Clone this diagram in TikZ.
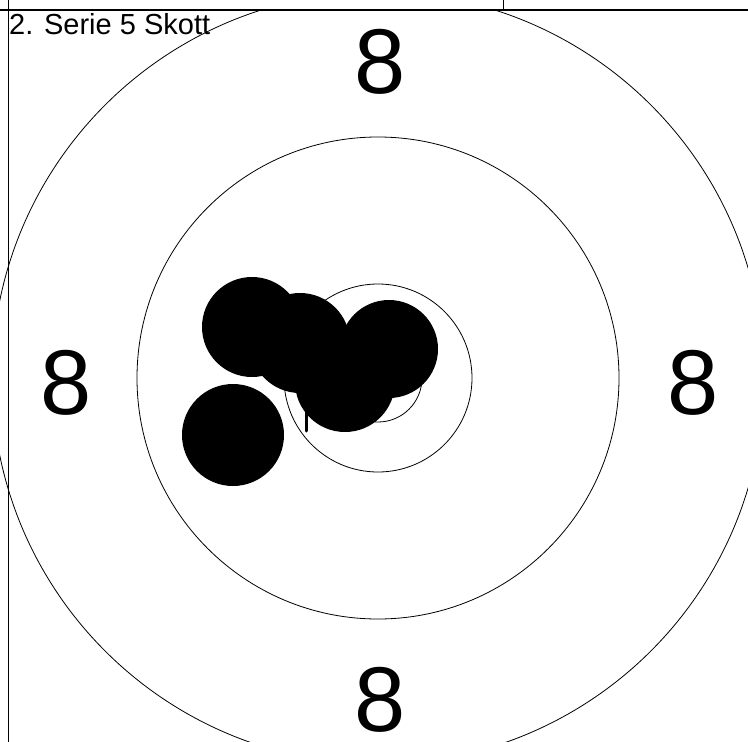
\documentclass[tikz,border=0pt]{standalone}
\usepackage{fontspec}
\setmainfont{Liberation Sans}

\begin{document}
\begin{tikzpicture}[x=1pt, y=-1pt,
    ring/.style={draw, line width=0.8pt},
    shot/.style={circle, fill=black, inner sep=0pt, minimum size=100pt},
    score/.style={font=\fontsize{92}{92}\selectfont, inner sep=0pt}]
    \useasboundingbox (0,0) rectangle (748,742);

    % frame lines
    \draw[line width=1.4pt] (0,10) -- (748,10);
    \draw[line width=1pt] (8,0) -- (8,742);
    \draw[line width=1pt] (503,0) -- (503,10);

    % rings
    \coordinate (c) at (378,378);
    \begin{scope}
        \clip (0,10) rectangle (748,742);
        \draw[ring] (c) circle[radius=44pt];
        \draw[ring] (c) circle[radius=94pt];
        \draw[ring] (c) circle[radius=241pt];
        \draw[ring] (c) circle[radius=386pt];
    \end{scope}

    \node[score] (n) at (380,62) {8};
    \node[score] (w) at (66,383) {8};
    \node[score] (e) at (693,383) {8};
    \node[score] (s) at (380,700) {8};

    \node[anchor=base west, inner sep=0pt, font=\fontsize{29}{29}\selectfont] (t) at (9,34) {2. Serie 5 Skott};

    % hits
    \node[shot] (h1) at (252,327) {};
    \node[shot] (h2) at (300,343) {};
    \node[shot, minimum size=98pt] (h3) at (389,349) {};
    \node[shot] (h4) at (345,382) {};
    \node[shot, minimum size=102pt] (h5) at (233,435) {};
    \draw[line width=3pt, line cap=round] (306,405) -- (306,431);
\end{tikzpicture}
\end{document}
